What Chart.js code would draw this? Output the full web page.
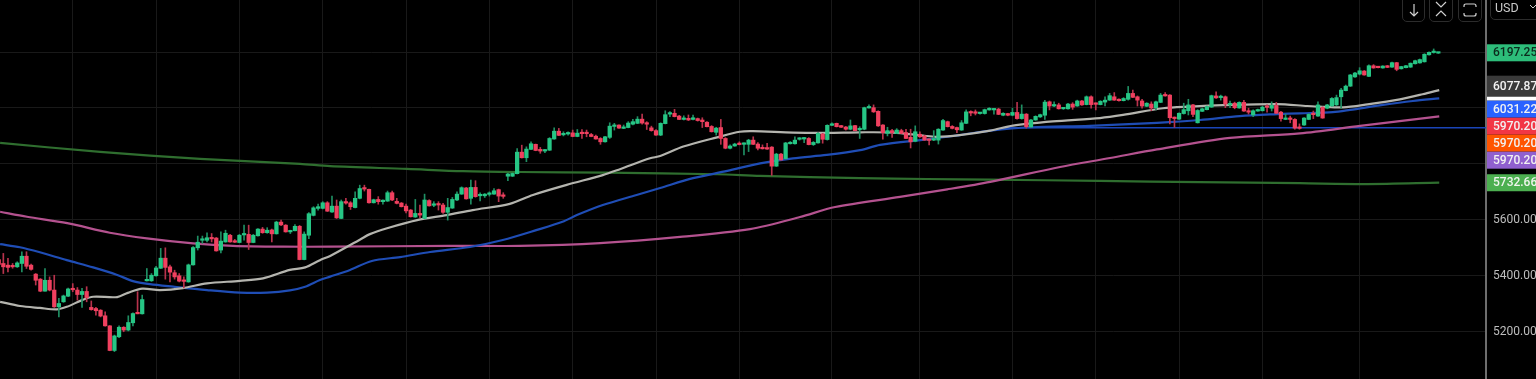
<!DOCTYPE html>
<html>
<head>
<meta charset="utf-8">
<script src="https://cdn.jsdelivr.net/npm/chart.js@4"></script>
<style>
html,body{margin:0;padding:0;background:#000;width:1536px;height:379px;overflow:hidden;font-family:Roboto,sans-serif}
#c{position:absolute;left:0;top:0}
.btn{position:absolute;top:-6px;height:28px;border:1px solid #2c2c2c;border-radius:5px;box-sizing:border-box;display:flex;align-items:flex-end;justify-content:center;padding-bottom:4px}
#usd{position:absolute;left:1490px;top:-8px;width:60px;height:28px;border:1px solid #2c2c2c;border-radius:5px;box-sizing:border-box;color:#c9c9c9;font-size:12.5px;line-height:12px;padding:9px 0 0 4px}
</style>
</head>
<body>
<canvas id="c" width="1536" height="379"></canvas>
<div class="btn" style="left:1402px;width:23px"><svg width="14" height="14" viewBox="0 0 14 14" fill="none" stroke="#d0d0d0" stroke-width="1.2"><path d="M7 1V13M3 9L7 13L11 9"/></svg></div>
<div class="btn" style="left:1429px;width:24px"><svg width="14" height="16" viewBox="0 0 14 16" fill="none" stroke="#d0d0d0" stroke-width="1.2"><path d="M2 1L7 6L12 1M2 15L7 10L12 15"/></svg></div>
<div class="btn" style="left:1458px;width:24px"><svg width="14" height="14" viewBox="0 0 14 14" fill="none" stroke="#d0d0d0" stroke-width="1.2"><path d="M1 4V3Q1 1 3 1H11Q13 1 13 3V4M1 10V11Q1 13 3 13H11Q13 13 13 11V10"/></svg></div>
<div id="usd">USD<svg style="position:absolute;left:38px;top:11px" width="8" height="5" viewBox="0 0 8 5" fill="none" stroke="#c9c9c9"><path d="M1 1L4 4L7 1"/></svg></div>
<script>
const opens=[
5458,5444,5438,5437,5432,5444,5470,5438,5406,5388,
5345,5384,5349,5289,5307,5327,5353,5349,5333,5344,
5287,5283,5277,5257,5221,5133,5182,5216,5206,5232,
5266,5264,5382,5382,5400,5427,5463,5432,5411,5400,
5383,5378,5439,5500,5527,5527,5536,5535,5492,5521,
5545,5524,5519,5546,5548,5519,5543,5567,5554,5564,
5550,5592,5581,5557,5561,5577,5458,5545,5616,5641,
5641,5661,5628,5649,5605,5665,5661,5644,5677,5714,
5709,5661,5673,5665,5667,5697,5666,5660,5649,5635,
5610,5623,5605,5669,5652,5657,5653,5627,5642,5671,
5692,5714,5677,5716,5686,5686,5691,5692,5708,5687,
5756,5756,5765,5842,5822,5852,5870,5852,5846,5849,
5889,5917,5904,5907,5911,5898,5911,5910,5905,5899,
5891,5879,5895,5934,5939,5927,5930,5942,5945,5960,
5945,5929,5919,5903,5944,5978,5981,5971,5959,5963,
5959,5962,5957,5949,5934,5913,5930,5891,5856,5864,
5874,5870,5870,5885,5871,5859,5858,5860,5792,5835,
5819,5872,5872,5888,5889,5891,5869,5875,5907,5887,
5938,5945,5937,5932,5924,5937,5922,5924,6000,6001,
5988,5939,5909,5919,5909,5919,5912,5895,5881,5906,
5900,5888,5885,5885,5921,5951,5934,5930,5921,5945,
5984,5984,5980,5980,5993,5993,5996,5974,5980,5974,
5984,5962,5978,5932,5957,5968,5974,6022,6007,6011,
5997,5997,6014,6007,6025,6012,6040,6015,6012,6021,
6028,6040,6031,6026,6031,6052,6040,6025,6006,6014,
6001,6020,6046,6046,5966,5960,5980,5990,6011,5947,
5988,5994,6003,6043,6037,6040,6011,6017,6000,6020,
5990,5975,5989,5990,6005,5999,6009,5985,5959,5963,
5959,5929,5939,5959,5980,5971,6002,5999,6007,6011,
6040,6062,6078,6111,6121,6132,6113,6151,6148,6143,
6151,6146,6162,6140,6144,6146,6158,6161,6165,6190,6198,6196];
const highs=[
5465,5480,5462,5444,5450,5486,5486,5442,5408,5390,
5426,5396,5402,5319,5331,5356,5372,5358,5355,5361,
5310,5287,5279,5271,5222,5188,5221,5218,5257,5268,
5343,5331,5426,5408,5434,5498,5500,5438,5420,5408,
5396,5442,5504,5542,5542,5554,5551,5537,5557,5563,
5548,5530,5548,5581,5581,5548,5569,5573,5572,5567,
5595,5599,5583,5563,5583,5580,5557,5626,5647,5656,
5665,5665,5685,5671,5671,5677,5665,5700,5724,5724,
5710,5674,5683,5672,5703,5703,5677,5662,5656,5637,
5673,5653,5692,5672,5665,5665,5659,5677,5680,5700,
5718,5716,5742,5740,5697,5694,5700,5712,5710,5697,
5766,5768,5855,5867,5861,5879,5871,5859,5852,5894,
5929,5927,5915,5915,5921,5923,5923,5921,5909,5903,
5894,5899,5947,5945,5940,5939,5951,5959,5969,5978,
5951,5935,5923,5947,5990,5987,5995,5974,5972,5975,
5975,5964,5965,5951,5937,5931,5959,5894,5868,5874,
5879,5875,5888,5897,5876,5868,5874,5862,5838,5838,
5877,5880,5897,5894,5895,5894,5880,5912,5909,5940,
5947,5946,5938,5934,5957,5938,5933,6003,6011,6011,
5990,5941,5931,5924,5926,5924,5924,5924,5936,5915,
5902,5890,5919,5926,5959,5953,5937,5932,5955,5993,
5990,5993,5983,5996,6001,5999,5999,5983,5981,5999,
6020,6011,5980,5959,5972,5978,6027,6025,6022,6017,
6002,6017,6019,6028,6027,6043,6043,6018,6026,6040,
6052,6055,6033,6037,6077,6064,6043,6031,6019,6022,
6025,6052,6055,6048,5968,5983,6017,6031,6013,5994,
6000,6007,6046,6058,6046,6043,6025,6021,6022,6027,
5999,5993,5996,6006,6011,6022,6020,5988,5978,5971,
5962,5943,5966,5980,5989,6022,6004,6013,6037,6046,
6070,6082,6120,6127,6144,6134,6154,6155,6149,6151,
6152,6164,6163,6149,6152,6161,6171,6175,6194,6201,6211,6199];
const lows=[
5435,5408,5414,5427,5430,5414,5426,5420,5367,5343,
5345,5346,5287,5253,5305,5325,5343,5313,5287,5307,
5277,5259,5253,5220,5132,5129,5179,5200,5203,5221,
5264,5263,5381,5380,5399,5426,5388,5378,5388,5378,
5357,5377,5438,5492,5516,5521,5521,5488,5482,5520,
5520,5519,5518,5527,5494,5518,5542,5552,5552,5521,
5549,5579,5556,5551,5560,5457,5457,5533,5614,5635,
5639,5630,5627,5605,5604,5656,5637,5643,5675,5703,
5660,5660,5656,5656,5666,5669,5657,5646,5625,5610,
5609,5607,5604,5649,5647,5635,5623,5599,5641,5669,
5691,5674,5656,5681,5668,5680,5685,5691,5665,5677,
5740,5755,5764,5821,5808,5851,5847,5838,5840,5848,
5888,5901,5900,5903,5897,5897,5891,5897,5897,5888,
5870,5878,5891,5921,5927,5926,5929,5939,5944,5942,
5923,5917,5902,5901,5943,5969,5968,5958,5957,5955,
5957,5953,5930,5932,5914,5903,5870,5854,5854,5863,
5868,5832,5844,5869,5850,5853,5852,5759,5791,5813,
5817,5871,5871,5885,5876,5868,5866,5874,5874,5885,
5937,5932,5930,5921,5922,5918,5891,5922,5999,5984,
5934,5888,5900,5895,5908,5908,5890,5857,5879,5895,
5884,5868,5883,5871,5920,5932,5925,5912,5920,5944,
5972,5975,5978,5978,5992,5978,5976,5972,5972,5972,
5960,5960,5928,5931,5956,5966,5959,5993,6005,5996,
5995,5996,5995,6006,6009,6011,5999,5993,6011,6007,
6027,6027,6024,6025,6028,6037,6007,5999,6005,5990,
5993,6019,6042,5943,5931,5959,5978,5975,5969,5946,
5987,5993,6002,6034,6028,6001,6001,5997,5999,5988,
5978,5969,5988,5989,5985,5989,5980,5953,5958,5947,
5924,5924,5938,5958,5962,5970,5963,5997,6006,6009,
5999,6061,6077,6109,6118,6117,6112,6142,6143,6142,
6144,6145,6133,6139,6143,6145,6157,6160,6164,6189,6196,6195];
const closes=[
5441,5432,5430,5432,5446,5470,5434,5423,5384,5345,
5384,5349,5289,5301,5328,5353,5350,5333,5344,5322,
5279,5275,5256,5221,5133,5185,5216,5206,5233,5265,
5264,5315,5384,5402,5428,5463,5430,5413,5396,5381,
5380,5439,5501,5520,5530,5536,5532,5489,5524,5552,
5521,5520,5545,5550,5519,5545,5567,5554,5563,5550,
5592,5582,5557,5562,5577,5458,5549,5622,5643,5647,
5661,5631,5649,5607,5665,5660,5647,5677,5712,5710,
5661,5672,5665,5669,5697,5671,5659,5647,5632,5611,
5623,5617,5671,5650,5656,5653,5627,5644,5673,5692,
5715,5675,5716,5683,5690,5692,5693,5704,5685,5684,
5764,5766,5842,5822,5853,5872,5848,5846,5849,5891,
5917,5902,5908,5911,5898,5910,5908,5908,5898,5889,
5879,5897,5935,5939,5928,5930,5946,5951,5960,5946,
5942,5919,5903,5945,5976,5982,5969,5959,5963,5957,
5965,5955,5951,5933,5915,5928,5891,5856,5864,5871,
5869,5872,5885,5870,5856,5854,5853,5792,5835,5814,
5875,5877,5885,5891,5893,5869,5877,5909,5888,5938,
5943,5933,5931,5924,5936,5919,5925,6001,6003,5986,
5936,5912,5919,5912,5921,5909,5891,5879,5915,5897,
5885,5884,5889,5924,5955,5933,5927,5922,5947,5986,
5982,5981,5982,5994,5999,5996,5977,5981,5974,5984,
5962,5978,5933,5957,5970,5976,6021,6007,6012,5997,
6000,6014,6003,6025,6011,6040,6012,6013,6024,6028,
6044,6028,6026,6034,6052,6038,6028,6007,6017,6000,
6022,6046,6043,5965,5962,5981,5994,6011,5977,5991,
5997,6005,6044,6036,6040,6014,6014,6001,6020,5989,
5985,5990,5994,6003,6002,6009,5981,5962,5964,5959,
5928,5927,5964,5977,5976,6011,5964,6011,6034,6037,
6064,6078,6118,6125,6133,6118,6151,6143,6144,6150,
6145,6162,6138,6148,6151,6160,6169,6173,6192,6199,6201,6197];

const grayIdx=[.3,4.6,8.9,12.6,14.7,18,20.4,25.6,27.9,31,34.8,39.8,45,52.1,57.1,62.9,66.2,69.4,71.6,78.1,80.2,83.9,90.4,96.8,102.4,110.4,115.4,122.7,130.5,134.2,140.7,142.9,147.9,155.2,160.1,162.9,171.6,178.9,186.1,193.2,199.7,202.7,207.6,214.2,219.1,227.7,237.9,242.9,251.5,257.4,264.5,276.2,282.7,285.4,290.4,295.7,302.7,307.6,311.2];
const grayVal=[5307,5292,5285,5280,5289,5313,5325,5324,5339,5354,5349,5356,5373,5382,5391,5421,5430,5456,5471,5530,5549,5570,5599,5617,5635,5657,5689,5725,5760,5781,5820,5828,5862,5895,5915,5917,5912,5911,5913,5912,5901,5897,5903,5919,5937,5952,5964,5975,5999,6005,6010,6014,6007,6005,6002,6013,6031,6049,6064];
const blueIdx=[.3,4.6,8.9,14.7,20.4,25.6,29,32.7,37.7,45,52.1,58,62.9,66.2,69.4,71.6,75.9,80.6,86.7,93.2,101.8,108.9,116.3,121.8,124.9,130.5,137.8,142.9,150,157.4,164.5,171.6,178.9,186.1,190.4,200.5,207.6,214.2,223,235.7,250.2,259.5,268.1,276.2,281.1,288.2,291.9,299,305.5,311.2];
const blueVal=[5513,5502,5484,5456,5430,5403,5381,5370,5361,5349,5340,5340,5348,5361,5385,5397,5421,5453,5467,5485,5503,5528,5564,5593,5617,5653,5689,5714,5749,5775,5802,5820,5832,5849,5868,5888,5903,5919,5931,5936,5947,5957,5971,5978,5981,5985,5993,6011,6025,6034];
const pinkIdx=[.3,6.1,14.8,24,32,42,50.6,61.4,71.6,97.5,112.6,129.9,147.2,162.3,173.1,180.7,194.7,204.9,214.2,229.3,240.1,250.2,266,281.1,294.1,311.2];
const pinkVal=[5629,5611,5588,5554,5534,5516,5507,5504,5504,5507,5507,5517,5539,5567,5610,5646,5682,5709,5736,5789,5821,5852,5893,5909,5936,5970];
const greenIdx=[.3,21.9,43.5,65.1,71.6,88.2,100.3,112.6,131.4,155.2,164.5,186,200.5,214.2,237.9,259.5,281.1,295.6,311.2];
const greenVal=[5875,5843,5818,5800,5792,5782,5774,5771,5769,5763,5757,5749,5746,5744,5739,5735,5731,5728,5733];
const levelIdx=[217,321.3];
const levelVal=[5929,5929];

const priceTicks=[5200,5400,5600,5800,6000,6200];
const gridIdx=[16,34,52,70,88,106,124,142,160,180,199,219,237,255,273,294];
const tagVals=[6197.25,6077.87,6031.22,5970.20,5970.20,5970.20,5732.66];
const tagFill=['#2dbd7a','#3a3a3a','#2962ff','#f23645','#ff5500','#9060cf','#4caf50'];
const tagText=['#0b2a1c','#f2f2f2','#f2f2f2','#f2f2f2','#f2f2f2','#f2f2f2','#f0f5ee'];

const UP='#26c685',DOWN='#f0405f',UPW='#1f8f63',DOWNW='#b8324c';
const pts=(xs,ys)=>xs.map((x,i)=>({x,y:ys[i]}));
const lineDs=(xs,ys,color,width,order)=>({type:'line',data:pts(xs,ys),borderColor:color,borderWidth:width,pointRadius:0,tension:.3,order,fill:false});

const tags={id:'tags',afterDraw(ch){
  const c=ch.ctx,s=ch.scales.y;let bottom=-1e9;
  c.save();c.font='500 12px Roboto';c.textBaseline='middle';c.textAlign='left';
  tagVals.forEach((v,i)=>{
    const h=i===1?21:17;
    let top=Math.max(s.getPixelForValue(v)-h/2,bottom);
    c.fillStyle=tagFill[i];c.fillRect(1487,top,49,h);
    c.fillStyle=tagText[i];c.fillText(v.toFixed(2),1493,top+h/2+.5);
    bottom=top+h;
    if(i===1){c.fillStyle='#fff';c.fillRect(1487,bottom,49,4);bottom+=4;}
  });
  c.restore();
}};

new Chart(document.getElementById('c'),{
  data:{datasets:[
    {type:'bar',data:opens.map((o,i)=>({x:i,y:[o,closes[i]]})),
     backgroundColor:opens.map((o,i)=>closes[i]>=o?UP:DOWN),barThickness:3.6,minBarLength:1.5,grouped:false,order:0,borderWidth:0},
    {type:'bar',data:lows.map((l,i)=>({x:i,y:[l,highs[i]]})),
     backgroundColor:opens.map((o,i)=>closes[i]>=o?UPW:DOWNW),barThickness:1,grouped:false,order:1,borderWidth:0},
    lineDs(grayIdx,grayVal,'#b4b4ae',2.2,2),
    lineDs(blueIdx,blueVal,'#1f4db5',2.2,3),
    lineDs(pinkIdx,pinkVal,'#b4528f',2.2,4),
    lineDs(greenIdx,greenVal,'#2f6e2f',2.2,5),
    lineDs(levelIdx,levelVal,'#1a45b8',1.5,6)
  ]},
  options:{
    responsive:false,animation:false,
    layout:{padding:0},
    plugins:{legend:{display:false},tooltip:{enabled:false},title:{display:false}},
    scales:{
      x:{type:'linear',offset:false,min:.281,max:321.3,
        grid:{color:'#191919',drawTicks:false,offset:false},border:{display:false},
        ticks:{display:false},
        afterBuildTicks(a){a.ticks=gridIdx.map(value=>({value}));},
        afterFit(a){a.height=0;a.paddingLeft=0;a.paddingRight=0;}},
      y:{type:'linear',position:'right',min:5031,max:6386,
        grid:{color:'#191919',drawTicks:false},border:{display:true,color:'#6e6e6e',width:2},
        ticks:{color:'#bdbdbd',font:{family:'Roboto',size:12},padding:7,callback:v=>v.toFixed(2)},
        afterBuildTicks(a){a.ticks=priceTicks.map(value=>({value}));},
        afterFit(a){a.width=50;a.paddingTop=0;a.paddingBottom=0;}}
    }
  },
  plugins:[tags]
});
</script>
</body>
</html>
